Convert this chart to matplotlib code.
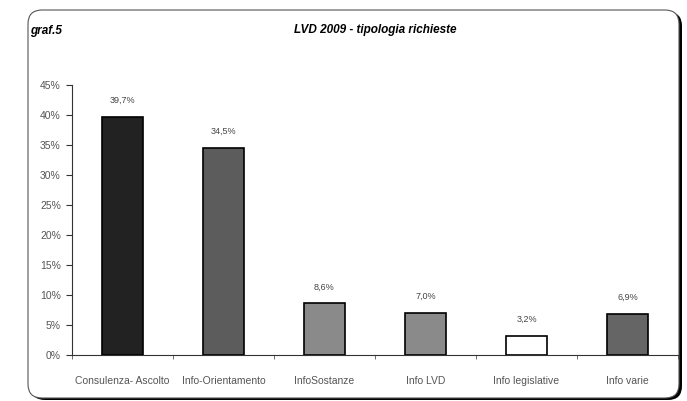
import matplotlib.pyplot as plt
from matplotlib.patches import FancyBboxPatch
import numpy as np

categories = ['Consulenza- Ascolto', 'Info-Orientamento', 'InfoSostanze',
              'Info LVD', 'Info legislative', 'Info varie']
values = [39.7, 34.5, 8.6, 7.0, 3.2, 6.9]
value_labels = ['39,7%', '34,5%', '8,6%', '7,0%', '3,2%', '6,9%']
bar_colors = ['#222222', '#5c5c5c', '#8a8a8a', '#8a8a8a', '#ffffff', '#656565']
yticks = [0, 5, 10, 15, 20, 25, 30, 35, 40, 45]

plt.rcParams['font.family'] = ['Liberation Sans', 'DejaVu Sans']

W, H = 687, 401
fig = plt.figure(figsize=(W / 100, H / 100), dpi=100)

# frame with shadow, drawn in pixel coordinates
bg = fig.add_axes([0, 0, 1, 1])
bg.set_xlim(0, W)
bg.set_ylim(H, 0)
bg.axis('off')
bg.add_patch(FancyBboxPatch((31, 12), 651, 388, boxstyle='round,pad=0,rounding_size=14',
                            facecolor='black', edgecolor='none'))
bg.add_patch(FancyBboxPatch((28, 10), 651, 388, boxstyle='round,pad=0,rounding_size=14',
                            facecolor='white', edgecolor='#555555', lw=0.8))
bg.text(30, 31, 'graf.5', fontsize=8.5, fontweight='bold', fontstyle='italic',
        va='center', ha='left')
bg.text(375, 30, 'LVD 2009 - tipologia richieste', fontsize=8.5, fontweight='bold',
        fontstyle='italic', va='center', ha='center')

ax = fig.add_axes([72 / W, 1 - 355 / H, (678 - 72) / W, (355 - 85) / H])
ax.patch.set_alpha(0)
x = np.arange(len(categories))
ax.bar(x, values, width=0.4, color=bar_colors, edgecolor='black', linewidth=1.2)
for xi, v, lab in zip(x, values, value_labels):
    ax.text(xi, v + 2.0, lab, ha='center', va='bottom', fontsize=6.5, color='#444444')

ax.set_xlim(-0.5, len(categories) - 0.5)
ax.set_ylim(0, 45)
ax.set_yticks(yticks)
ax.set_yticklabels([f'{t}%' for t in yticks], fontsize=7.5, color='#555555')
ax.set_xticks(x)
ax.set_xticklabels(categories, fontsize=7.5, color='#555555')
ax.set_xticks(np.arange(len(categories) + 1) - 0.5, minor=True)
ax.tick_params(axis='x', which='major', length=0, pad=15)
ax.tick_params(axis='x', which='minor', length=3, color='#555555')
ax.tick_params(axis='y', length=4, pad=4, color='#333333')
for s in ['top', 'right']:
    ax.spines[s].set_visible(False)
ax.spines['left'].set_color('#333333')
ax.spines['bottom'].set_color('#333333')

fig.savefig('out.png', dpi=100)
